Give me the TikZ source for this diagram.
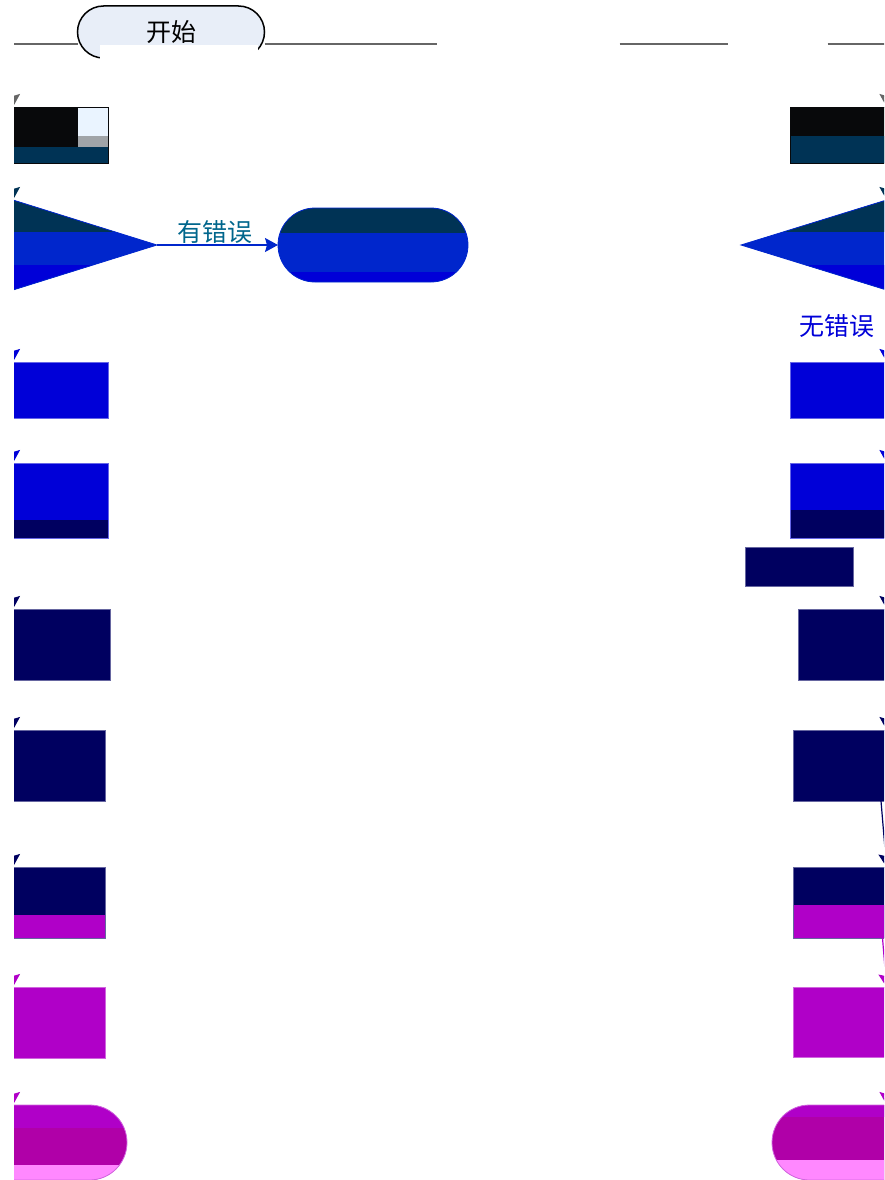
\documentclass[tikz,border=0pt]{standalone}
\usepackage{fontspec}
\setmainfont{Noto Sans CJK SC}
\usetikzlibrary{shapes.geometric,shapes.misc,arrows.meta}
\definecolor{inkblack}{HTML}{08090B}
\definecolor{paleblue}{HTML}{EAF4FF}
\definecolor{midgray}{HTML}{A0A4A8}
\definecolor{deepteal}{HTML}{003355}
\definecolor{labteal}{HTML}{00668C}
\definecolor{royal}{HTML}{0026CC}
\definecolor{pureblue}{HTML}{0000D8}
\definecolor{navy}{HTML}{000060}
\definecolor{violet}{HTML}{B000C8}
\definecolor{plum}{HTML}{B000A8}
\definecolor{pink}{HTML}{FF88FF}
\definecolor{startfill}{HTML}{E8EEF8}
\tikzset{
    > = {Stealth[length=13pt,width=14pt,inset=2pt]},
    flow/.style = {->, line width=1.2pt},
    box/.style = {rectangle, inner sep=0pt, outer sep=0pt, line width=0.8pt},
    term/.style = {rounded rectangle, inner sep=0pt, outer sep=0pt, line width=0.8pt},
    test/.style = {diamond, inner sep=0pt, outer sep=0pt, line width=0.8pt},
    bands/.style n args = {5}{fill=#1, path picture={
        \fill[#2] (path picture bounding box.north west) rectangle ([yshift=-#3]path picture bounding box.north east);
        \fill[#4] (path picture bounding box.south west) rectangle ([yshift=#5]path picture bounding box.south east);}}
}

\begin{document}
\begin{tikzpicture}[x=1pt, y=-1pt, font=\fontsize{25pt}{30pt}\selectfont]
    \useasboundingbox (0,0) rectangle (884,1180);
    \clip (14,0) rectangle (884,1180);

    % start
    \node[term, fill=startfill, draw=black, line width=1.5pt, minimum width=187pt, minimum height=52pt] (start) at (171,32) {开始};

    % left column
    \node[box, draw=inkblack, minimum width=190pt, minimum height=56pt, path picture={
        \fill[inkblack] (path picture bounding box.north west) rectangle (path picture bounding box.south east);
        \fill[paleblue] ([xshift=-30pt]path picture bounding box.north east) rectangle ([yshift=-29pt]path picture bounding box.north east);
        \fill[midgray] ([xshift=-30pt,yshift=-29pt]path picture bounding box.north east) rectangle ([yshift=-40pt]path picture bounding box.north east);
        \fill[deepteal] (path picture bounding box.south west) rectangle ([yshift=16pt]path picture bounding box.south east);}] (lbox1) at (13,135) {};
    \node[test, draw=royal, minimum width=288pt, minimum height=90pt, bands={royal}{deepteal}{32pt}{pureblue}{25pt}] (ldia) at (13,245) {};
    \node[term, draw=royal, minimum width=190pt, minimum height=74pt, bands={royal}{deepteal}{25pt}{pureblue}{10pt}] (err) at (373,245) {};
    \node[box, draw=pureblue!60!white, fill=pureblue, minimum width=190pt, minimum height=56pt] (lbox2) at (13,390) {};
    \node[box, draw=pureblue!60!white, minimum width=190pt, minimum height=75pt, bands={pureblue}{pureblue}{0pt}{navy}{18pt}] (lbox3) at (13,500.5) {};
    \node[box, draw=navy!60!white, fill=navy, minimum width=194pt, minimum height=71pt] (lbox4) at (13,644.5) {};
    \node[box, draw=navy!60!white, fill=navy, minimum width=184pt, minimum height=71pt] (lbox5) at (13,765.5) {};
    \node[box, draw=navy!60!white, minimum width=184pt, minimum height=71pt, bands={navy}{navy}{0pt}{violet}{23pt}] (lbox6) at (13,902.5) {};
    \node[box, draw=violet!60!white, fill=violet, minimum width=184pt, minimum height=71pt] (lbox7) at (13,1022.5) {};
    \node[term, draw=violet!60!white, minimum width=228pt, minimum height=75pt, bands={plum}{violet}{23pt}{pink}{15pt}] (lend) at (13,1142.5) {};

    % right column
    \node[box, draw=inkblack, minimum width=193pt, minimum height=56pt, bands={inkblack}{inkblack}{0pt}{deepteal}{27pt}] (rbox1) at (886.5,135) {};
    \node[test, draw=royal, minimum width=291pt, minimum height=90pt, bands={royal}{deepteal}{32pt}{pureblue}{25pt}] (rdia) at (886.5,245) {};
    \node[box, draw=pureblue!60!white, fill=pureblue, minimum width=193pt, minimum height=56pt] (rbox2) at (886.5,390) {};
    \node[box, draw=pureblue!60!white, minimum width=193pt, minimum height=75pt, bands={pureblue}{pureblue}{0pt}{navy}{28pt}] (rbox3) at (886.5,500.5) {};
    \node[box, draw=navy!60!white, fill=navy, minimum width=108pt, minimum height=39pt] (rnote) at (799,566.5) {};
    \node[box, draw=navy!60!white, fill=navy, minimum width=177pt, minimum height=71pt] (rbox4) at (886.5,644.5) {};
    \node[box, draw=navy!60!white, fill=navy, minimum width=187pt, minimum height=71pt] (rbox5) at (886.5,765.5) {};
    \node[box, draw=navy!60!white, minimum width=187pt, minimum height=71pt, bands={navy}{navy}{0pt}{violet}{33pt}] (rbox6) at (886.5,902.5) {};
    \node[box, draw=violet!60!white, fill=violet, minimum width=187pt, minimum height=70pt] (rbox7) at (886.5,1022) {};
    \node[term, draw=violet!60!white, minimum width=229pt, minimum height=75pt, bands={plum}{violet}{12pt}{pink}{20pt}] (rend) at (886.5,1142.5) {};

    % connectors
    \draw[flow, draw=gray!80!black, line width=1.5pt] ([yshift=-12pt]start.west) -| (lbox1.north);
    \draw[flow, draw=gray!80!black, dash pattern=on 172pt off 183pt on 108pt off 100pt on 400pt off 0pt] ([yshift=-12pt]start.east) -| (rbox1.north);
    \fill[white] (100,45) rectangle (258,62);

    \draw[flow, deepteal] (lbox1) -- (ldia);
    \draw[flow, royal] (ldia) -- node[above, text=labteal, inner sep=1pt, xshift=-3pt] {有错误} (err);
    \draw[flow, pureblue] (ldia) -- (lbox2);
    \draw[flow, pureblue] (lbox2) -- (lbox3);
    \draw[flow, navy] (lbox3) -- (lbox4);
    \draw[flow, navy] (lbox4) -- (lbox5);
    \draw[flow, navy] (lbox5) -- (lbox6);
    \draw[flow, violet] (lbox6) -- (lbox7);
    \draw[flow, violet] (lbox7) -- (lend);

    \draw[flow, deepteal] (rbox1) -- (rdia);
    \draw[flow, pureblue] (rdia) -- node[left, text=pureblue, xshift=-8pt] {无错误} (rbox2);
    \draw[flow, pureblue] (rbox2) -- (rbox3);
    \draw[flow, navy] (rbox3) -- (rbox4);
    \draw[flow, navy] (rbox4) -- (rbox5);
    \draw[flow, navy] ([xshift=-5.5pt]rbox5.south) -- (rbox6.north);
    \draw[flow, violet] ([xshift=-4pt]rbox6.south) -- (rbox7.north);
    \draw[flow, violet] (rbox7) -- (rend);
\end{tikzpicture}
\end{document}
